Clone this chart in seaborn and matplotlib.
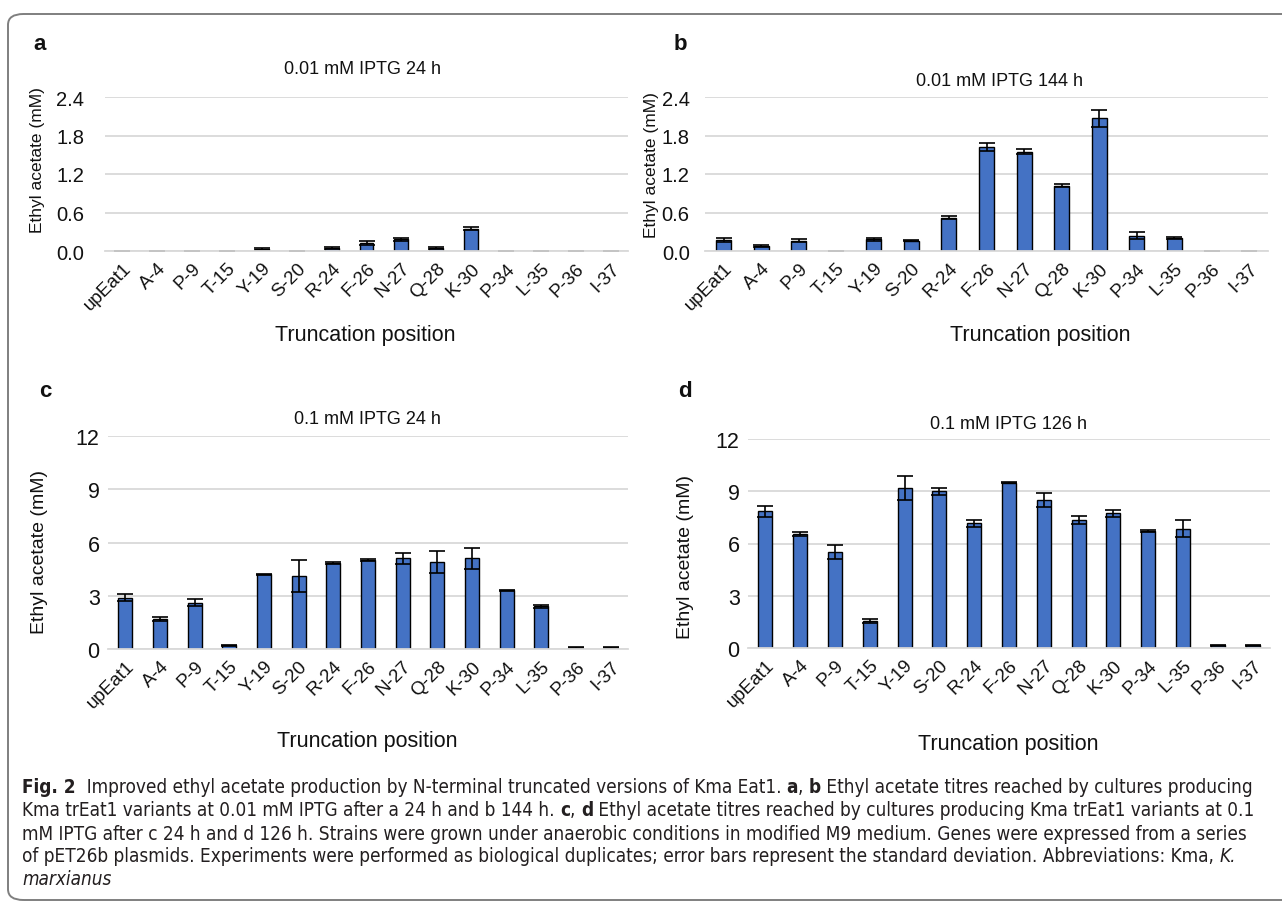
import numpy as np
import matplotlib.pyplot as plt
import seaborn as sns
from matplotlib.patches import FancyBboxPatch

sns.set_theme(style="white")
plt.rcParams['font.family'] = ['Liberation Sans', 'DejaVu Sans']
plt.rcParams['text.color'] = '#111111'
plt.rcParams['xtick.color'] = '#111111'
plt.rcParams['ytick.color'] = '#111111'

# -----------------------------
# data
# -----------------------------
positions = ["upEat1", "A-4", "P-9", "T-15", "Y-19", "S-20", "R-24", "F-26",
             "N-27", "Q-28", "K-30", "P-34", "L-35", "P-36", "I-37"]

a_mean = [0.0, 0.0, 0.0, 0.0, 0.03, 0.0, 0.05, 0.13, 0.18, 0.05, 0.35, 0.0, 0.0, 0.0, 0.0]
a_sd = [0.0, 0.0, 0.0, 0.0, 0.02, 0.0, 0.02, 0.03, 0.03, 0.02, 0.03, 0.0, 0.0, 0.0, 0.0]

b_mean = [0.17, 0.08, 0.16, 0.0, 0.18, 0.16, 0.52, 1.62, 1.55, 1.02, 2.07, 0.24, 0.20, 0.0, 0.0]
b_sd = [0.03, 0.02, 0.02, 0.0, 0.02, 0.01, 0.02, 0.06, 0.04, 0.02, 0.13, 0.05, 0.02, 0.0, 0.0]

c_mean = [2.9, 1.7, 2.6, 0.2, 4.2, 4.1, 4.85, 5.0, 5.1, 4.9, 5.1, 3.3, 2.4, 0.08, 0.08]
c_sd = [0.2, 0.1, 0.2, 0.05, 0.05, 0.9, 0.05, 0.05, 0.3, 0.6, 0.6, 0.05, 0.1, 0.02, 0.02]

d_mean = [7.85, 6.55, 5.5, 1.55, 9.2, 9.0, 7.15, 9.5, 8.5, 7.35, 7.75, 6.7, 6.85, 0.15, 0.15]
d_sd = [0.3, 0.1, 0.4, 0.1, 0.7, 0.2, 0.2, 0.05, 0.4, 0.25, 0.2, 0.05, 0.5, 0.05, 0.05]

titles = ["0.01 mM IPTG 24 h", "0.01 mM IPTG 144 h", "0.1 mM IPTG 24 h", "0.1 mM IPTG 126 h"]
letters = ["a", "b", "c", "d"]

W, H = 1282, 904
fig = plt.figure(figsize=(W / 100, H / 100), dpi=100)


def px(x, y):
    return x / W, 1 - y / H


# outer rounded frame
frame = FancyBboxPatch((8 / W, 3 / H), 1290 / W, 886 / H,
                       boxstyle="round,pad=0,rounding_size=0.012",
                       transform=fig.transFigure, facecolor="none",
                       edgecolor="#7f7f7f", linewidth=1.4)
fig.patches.append(frame)

# panel layout in pixels: left, right, y of zero, y of top gridline
panels = [
    dict(mean=a_mean, sd=a_sd, box=(105, 628, 252, 98), ymax=2.4, step=0.6, fmt="{:.1f}", pad=15, tick_fs=14.5,
         title_xy=(362, 70), letter_xy=(40, 45), ylab_xy=(38, 160), xlab_xy=(365, 336), lab_fs=12.5),
    dict(mean=b_mean, sd=b_sd, box=(705, 1268, 252, 98), ymax=2.4, step=0.6, fmt="{:.1f}", pad=11, tick_fs=14.5,
         title_xy=(1000, 82), letter_xy=(680, 45), ylab_xy=(651, 165), xlab_xy=(1040, 336), lab_fs=12.5),
    dict(mean=c_mean, sd=c_sd, box=(108, 628, 650, 437), ymax=12, step=3, fmt="{:.0f}", pad=6, tick_fs=15.5,
         title_xy=(367, 420), letter_xy=(45, 392), ylab_xy=(40, 552), xlab_xy=(367, 742), lab_fs=14),
    dict(mean=d_mean, sd=d_sd, box=(748, 1270, 649, 440), ymax=12, step=3, fmt="{:.0f}", pad=6, tick_fs=15.5,
         title_xy=(1008, 425), letter_xy=(685, 392), ylab_xy=(686, 557), xlab_xy=(1008, 745), lab_fs=14),
]

for i, p in enumerate(panels):
    l, r, y0, y1 = p["box"]
    ax = fig.add_axes([l / W, 1 - y0 / H, (r - l) / W, (y0 - y1) / H])
    sns.barplot(x=positions, y=p["mean"], ax=ax, color="#4472C4", saturation=1,
                edgecolor="black", linewidth=1, width=0.4, errorbar=None)
    ax.errorbar(np.arange(len(positions)), p["mean"], yerr=p["sd"], fmt="none",
                ecolor="black", elinewidth=1.2, capsize=6, capthick=1.2)
    ax.set_ylim(0, p["ymax"])
    ax.set_xlim(-0.5, len(positions) - 0.5)
    yt = np.arange(0, p["ymax"] + p["step"] / 2, p["step"])
    ax.set_yticks(yt)
    ax.set_yticklabels([p["fmt"].format(v) for v in yt], fontsize=p["tick_fs"])
    ax.set_xticks(np.arange(len(positions)))
    ax.set_xticklabels(positions, rotation=45, ha="right", rotation_mode="anchor", fontsize=13.5)
    ax.tick_params(axis="x", length=0, pad=6)
    ax.tick_params(axis="y", length=0, pad=p["pad"])
    ax.yaxis.grid(True, color="#d9d9d9", linewidth=1.3)
    ax.set_axisbelow(True)
    for s in ["top", "left", "right"]:
        ax.spines[s].set_visible(False)
    ax.spines["bottom"].set_color("#d9d9d9")
    ax.spines["bottom"].set_linewidth(1.3)
    ax.set_xlabel("")
    ax.set_ylabel("")

    fig.text(*px(*p["title_xy"]), titles[i], fontsize=13, ha="center", va="center")
    fig.text(*px(*p["letter_xy"]), letters[i], fontsize=16, fontweight="bold", ha="center", va="center")
    fig.text(*px(*p["ylab_xy"]), "Ethyl acetate (mM)", fontsize=p["lab_fs"],
             rotation=90, ha="center", va="center")
    fig.text(*px(*p["xlab_xy"]), "Truncation position", fontsize=15.5, ha="center", va="center")

# -----------------------------
# caption with mixed styles
# -----------------------------
cap_font = "DejaVu Sans"
cap_lines = [
    [("Fig. 2", "b"), ("  Improved ethyl acetate production by N-terminal truncated versions of Kma Eat1. ", "n"),
     ("a", "b"), (", ", "n"), ("b", "b"),
     (" Ethyl acetate titres reached by cultures producing", "n")],
    [("Kma trEat1 variants at 0.01 mM IPTG after a 24 h and b 144 h. ", "n"), ("c", "b"), (", ", "n"),
     ("d", "b"), (" Ethyl acetate titres reached by cultures producing Kma trEat1 variants at 0.1", "n")],
    [("mM IPTG after c 24 h and d 126 h. Strains were grown under anaerobic conditions in modified M9 medium. "
      "Genes were expressed from a series", "n")],
    [("of pET26b plasmids. Experiments were performed as biological duplicates; error bars represent the "
      "standard deviation. Abbreviations: Kma, ", "n"), ("K.", "i")],
    [("marxianus", "i")],
]
cap_y = [788, 811, 834, 857, 880]
renderer = fig.canvas.get_renderer()


def draw_caption(size):
    made = []
    ends = []
    for line, y in zip(cap_lines, cap_y):
        x = 22
        for txt, st in line:
            t = fig.text(*px(x, y), txt, fontsize=size, family=cap_font, fontstretch="condensed",
                         va="center", ha="left",
                         fontweight="bold" if st == "b" else "normal",
                         fontstyle="italic" if st == "i" else "normal", color="#231f20")
            made.append(t)
            x += t.get_window_extent(renderer).width
        ends.append(x)
    return made, ends


made, ends = draw_caption(11)
scale = (1258 - 22) / (ends[0] - 22)
for t in made:
    t.remove()
draw_caption(11 * scale)

fig.savefig("out.png", dpi=100)
